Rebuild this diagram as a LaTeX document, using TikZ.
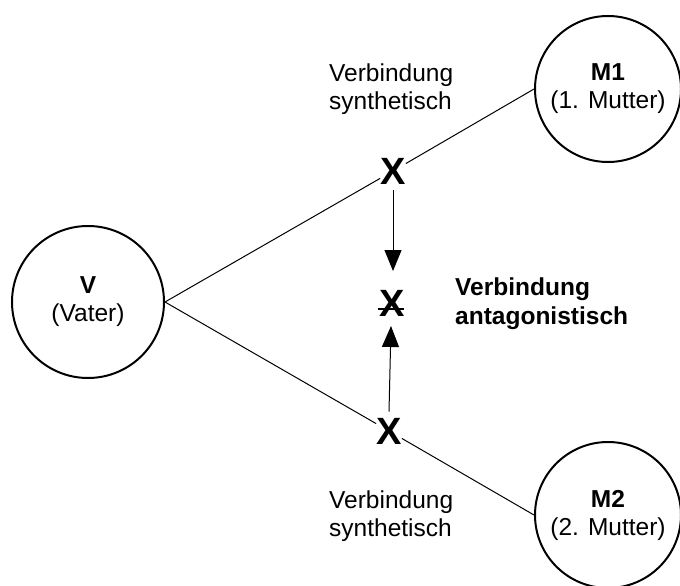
\documentclass[tikz,border=0pt]{standalone}
\usepackage{fontspec}
\setmainfont{Liberation Sans}
\usetikzlibrary{arrows.meta}
\begin{document}
\begin{tikzpicture}[x=1pt,y=-1pt,
  person/.style={draw,circle,line width=2pt,inner sep=0pt,align=center,font=\fontsize{24.5}{28}\selectfont},
  cross/.style={inner sep=0pt,font=\fontsize{38}{38}\selectfont\bfseries},
  lbl/.style={anchor=west,align=left,inner sep=0pt,font=\fontsize{24.5}{28}\selectfont},
  conn/.style={line width=1pt},
  arr/.style={line width=1pt,-{Triangle[width=17pt,length=21pt]}}]
\useasboundingbox (0,0) rectangle (680,586);
\node[person,minimum size=152pt] (V) at (88,302) {\textbf{V}\\(Vater)};
\node[person,minimum size=146pt] (M1) at (608,89) {\textbf{M1}\\(1. Mutter)};
\node[person,minimum size=146pt] (M2) at (608,515) {\textbf{M2}\\(2. Mutter)};
\node[cross] (X1) at (393,171) {X};
\node[cross] (X2) at (389,431) {X};
\node[cross] (X0) at (392,303) {X};
\coordinate (B1) at (378,309);
\coordinate (B2) at (404,309);
\draw[line width=1.5pt] (B1) -- (B2);
\draw[conn] (V.east) -- (X1) -- (M1.west);
\draw[conn] (V.east) -- (X2) -- (M2.west);
\coordinate (T1) at (393,271);
\coordinate (T2) at (391,326);
\draw[arr] (X1.south) ++(0,6) coordinate (S1) (S1) -- (T1);
\draw[arr] (X2.north) ++(0,-6) coordinate (S2) (S2) -- (T2);
\node[lbl] (L1) at (329,89) {Verbindung\\synthetisch};
\node[lbl] (L2) at (329,516) {Verbindung\\synthetisch};
\node[lbl,font=\fontsize{24.5}{29}\selectfont\bfseries] (L3) at (455,304) {Verbindung\\antagonistisch};
\end{tikzpicture}
\end{document}
